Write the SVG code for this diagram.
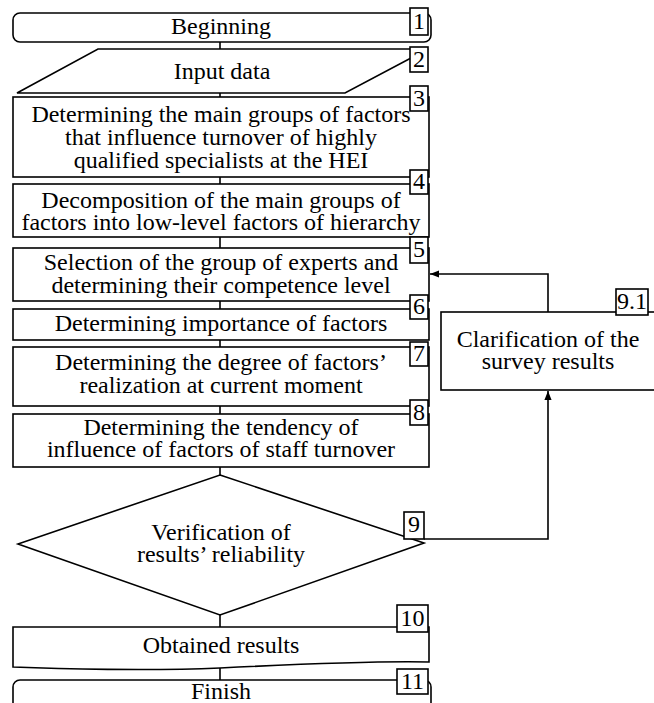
<svg xmlns="http://www.w3.org/2000/svg" width="654" height="703" viewBox="0 0 654 703">
<defs>
<style>
.s{fill:#fff;stroke:#000;stroke-width:1.6}
text{font-family:'Liberation Serif','Times New Roman',serif;font-size:24px;fill:#000;text-anchor:middle}
.c{fill:none;stroke:#000;stroke-width:1.6}
</style>
<marker id="ah" viewBox="0 0 10 10" refX="10" refY="5" markerWidth="9" markerHeight="9" markerUnits="userSpaceOnUse" orient="auto">
<path d="M0,1 L10,5 L0,9 Z" fill="#000"/>
</marker>
</defs>
<rect width="654" height="703" fill="#fff"/>
<g id="connectors">
<path class="c" d="M220,42 V49 M220,93 V97 M220,177 V184 M220,237 V248 M220,301 V309 M220,340 V347 M220,406 V414 M220,467 V475 M220,615 V627 M220,668 V680"/>
<path class="c" d="M548,312 V274 H430" marker-end="url(#ah)"/>
<path class="c" d="M424,539 H548 V391" marker-end="url(#ah)"/>
</g>
<g font-family="Liberation Serif, Times New Roman, serif">
<g id="n1">
<rect class="s" x="13" y="13" width="418" height="29" rx="7"/>
<text x="221" y="34">Beginning</text>
<rect class="s" x="410" y="8" width="18" height="27"/><text x="419" y="29">1</text>
</g>
<g id="n2">
<polygon class="s" points="98,49 428,49 345,93 17,93"/>
<text x="222" y="79">Input data</text>
<rect class="s" x="410" y="47" width="18" height="25"/><text x="419" y="67">2</text>
</g>
<g id="n3">
<rect class="s" x="13" y="97" width="416" height="80"/>
<text x="221" y="122">Determining the main groups of factors</text>
<text x="221" y="145">that influence turnover of highly</text>
<text x="221" y="168">qualified specialists at the HEI</text>
<rect class="s" x="410" y="86" width="18" height="25"/><text x="419" y="106">3</text>
</g>
<g id="n4">
<rect class="s" x="13" y="184" width="416" height="53"/>
<text x="221" y="208">Decomposition of the main groups of</text>
<text x="221" y="230">factors into low-level factors of hierarchy</text>
<rect class="s" x="410" y="170" width="18" height="24"/><text x="419" y="189">4</text>
</g>
<g id="n5">
<rect class="s" x="13" y="248" width="416" height="53"/>
<text x="221" y="270">Selection of the group of experts and</text>
<text x="221" y="293">determining their competence level</text>
<rect class="s" x="410" y="237" width="18" height="26"/><text x="419" y="257">5</text>
</g>
<g id="n6">
<rect class="s" x="13" y="309" width="416" height="31"/>
<text x="221" y="331">Determining importance of factors</text>
<rect class="s" x="410" y="295" width="18" height="24"/><text x="419" y="314">6</text>
</g>
<g id="n7">
<rect class="s" x="13" y="347" width="416" height="59"/>
<text x="221" y="370">Determining the degree of factors’</text>
<text x="221" y="393">realization at current moment</text>
<rect class="s" x="410" y="342" width="18" height="24"/><text x="419" y="361">7</text>
</g>
<g id="n8">
<rect class="s" x="13" y="414" width="416" height="53"/>
<text x="221" y="435">Determining the tendency of</text>
<text x="221" y="457">influence of factors of staff turnover</text>
<rect class="s" x="410" y="400" width="18" height="25"/><text x="419" y="420">8</text>
</g>
<g id="n9">
<polygon class="s" points="220,475 424,543 220,615 18,544"/>
<text x="221" y="540">Verification of</text>
<text x="221" y="562">results’ reliability</text>
<rect class="s" x="404" y="512" width="20" height="27"/><text x="414" y="532">9</text>
</g>
<g id="n91">
<rect class="s" x="441" y="312" width="230" height="78"/>
<text x="548" y="347">Clarification of the</text>
<text x="548" y="369">survey results</text>
<rect class="s" x="616" y="289" width="32" height="26"/><text x="632" y="309">9.1</text>
</g>
<g id="n10">
<path class="s" d="M13,627 H429 V662 C380,661 300,664 220,668 C150,671 60,669 13,667 Z"/>
<text x="221" y="653">Obtained results</text>
<rect class="s" x="397" y="605" width="31" height="27"/><text x="412.5" y="626">10</text>
</g>
<g id="n11">
<rect class="s" x="13" y="680" width="418" height="40" rx="7"/>
<text x="221" y="699">Finish</text>
<rect class="s" x="397" y="669" width="31" height="25"/><text x="412.5" y="689">11</text>
</g>
</g>
</svg>
